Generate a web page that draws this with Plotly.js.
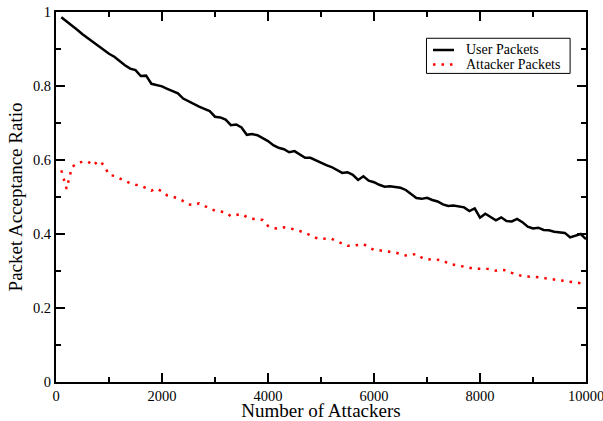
<!DOCTYPE html>
<html>
<head>
<meta charset="utf-8">
<script src="https://cdn.plot.ly/plotly-3.0.1.min.js"></script>
<style>html,body{margin:0;padding:0;background:#fff;}#chart{width:603px;height:421px;}</style>
</head>
<body>
<div id="chart"></div>
<script>
var attackers = [];
for (var i = 1; i <= 100; i++) attackers.push(i * 100);

var userPackets = [
0.986,0.975,0.965,0.952,0.940,0.929,0.918,0.909,0.898,0.887,
0.879,0.867,0.856,0.847,0.843,0.827,0.828,0.806,0.803,0.799,
0.792,0.785,0.780,0.766,0.758,0.750,0.744,0.738,0.732,0.717,
0.715,0.709,0.694,0.696,0.688,0.668,0.670,0.667,0.659,0.651,
0.640,0.633,0.629,0.621,0.624,0.614,0.606,0.606,0.599,0.592,
0.586,0.581,0.572,0.565,0.567,0.560,0.546,0.556,0.544,0.540,
0.533,0.528,0.529,0.528,0.525,0.519,0.508,0.497,0.495,0.498,
0.492,0.488,0.480,0.476,0.477,0.474,0.472,0.462,0.469,0.444,
0.455,0.446,0.437,0.445,0.435,0.434,0.441,0.432,0.420,0.415,
0.417,0.411,0.410,0.406,0.404,0.403,0.391,0.395,0.400,0.386
];

var attackerPackets = [
0.572,0.522,0.580,0.592,0.595,0.596,0.585,0.598,0.587,0.560,
0.557,0.550,0.544,0.537,0.533,0.531,0.524,0.517,0.523,0.515,
0.504,0.501,0.497,0.489,0.480,0.478,0.483,0.476,0.470,0.463,
0.461,0.458,0.448,0.450,0.454,0.446,0.441,0.440,0.438,0.422,
0.416,0.414,0.418,0.416,0.413,0.408,0.403,0.396,0.390,0.386,
0.388,0.387,0.381,0.374,0.368,0.368,0.370,0.373,0.364,0.357,
0.356,0.355,0.352,0.350,0.347,0.342,0.344,0.346,0.336,0.331,
0.332,0.331,0.329,0.320,0.317,0.315,0.312,0.310,0.306,0.306,
0.307,0.304,0.301,0.303,0.302,0.295,0.290,0.286,0.285,0.285,
0.283,0.281,0.279,0.277,0.275,0.272,0.270,0.268,0.266,0.265
];

var seriesNames = ["User Packets", "Attacker Packets"];
var seriesColors = ["#000000", "#ff0000"];
var xTickVals = [0, 2000, 4000, 6000, 8000, 10000];
var xTickText = ["0", "2000", "4000", "6000", "8000", "10000"];
var yTickVals = [0, 0.2, 0.4, 0.6, 0.8, 1];
var yTickText = ["0", "0.2", "0.4", "0.6", "0.8", "1"];

var font = "Liberation Serif, Times New Roman, serif";
var redDash = "2.5px,6px";

var traces = [
  {x: attackers, y: userPackets, name: seriesNames[0], type: "scatter", mode: "lines",
   line: {color: seriesColors[0], width: 2.5}},
  {x: attackers, y: attackerPackets, name: seriesNames[1], type: "scatter", mode: "lines",
   line: {color: seriesColors[1], width: 2.5, dash: redDash}}
];

var axisCommon = {
  showline: true, linecolor: "#000", linewidth: 2, mirror: "ticks",
  ticks: "inside", ticklen: 9, tickwidth: 1.5, tickcolor: "#000",
  showgrid: false, zeroline: false, ticklabeloverflow: "allow",
  tickfont: {family: font, size: 14.5, color: "#000"}
};

// manual legend box (paper coordinates)
var lg = {x0: 0.699, x1: 0.970, y0: 0.834, y1: 0.929,
          sx0: 0.7113, sx1: 0.7509, tx: 0.7700, rows: [0.8973, 0.8581]};

var shapes = [
  {type: "rect", xref: "paper", yref: "paper", x0: lg.x0, x1: lg.x1, y0: lg.y0, y1: lg.y1,
   line: {color: "#000", width: 1}, fillcolor: "#fff", layer: "above"},
  {type: "line", xref: "paper", yref: "paper", x0: lg.sx0, x1: lg.sx1, y0: lg.rows[0], y1: lg.rows[0],
   line: {color: seriesColors[0], width: 2.5}, layer: "above"},
  {type: "line", xref: "paper", yref: "paper", x0: lg.sx0, x1: lg.sx1, y0: lg.rows[1], y1: lg.rows[1],
   line: {color: seriesColors[1], width: 2.5, dash: redDash}, layer: "above"}
];

var annotations = seriesNames.map(function (n, k) {
  return {xref: "paper", yref: "paper", x: lg.tx, y: lg.rows[k], xanchor: "left", yanchor: "middle",
          text: n, showarrow: false, font: {family: font, size: 14, color: "#000"}};
});

var layout = {
  width: 603, height: 421,
  margin: {l: 56, r: 17, t: 12, b: 39},
  paper_bgcolor: "#fff", plot_bgcolor: "#fff",
  showlegend: false,
  shapes: shapes,
  annotations: annotations,
  xaxis: Object.assign({}, axisCommon, {
    range: [0, 10000], tickvals: xTickVals, ticktext: xTickText,
    minor: {dtick: 1000, ticklen: 5, tickcolor: "#000", tickwidth: 1.5, ticks: "inside"},
    title: {text: "Number of Attackers", font: {family: font, size: 19, color: "#000"}, standoff: 5}
  }),
  yaxis: Object.assign({}, axisCommon, {
    range: [0, 1], tickvals: yTickVals, ticktext: yTickText,
    minor: {dtick: 0.1, ticklen: 5, tickcolor: "#000", tickwidth: 1.5, ticks: "inside"},
    title: {text: "Packet Acceptance Ratio", font: {family: font, size: 19, color: "#000"}, standoff: 5}
  })
};

Plotly.newPlot("chart", traces, layout, {displayModeBar: false, staticPlot: true});
</script>
</body>
</html>
